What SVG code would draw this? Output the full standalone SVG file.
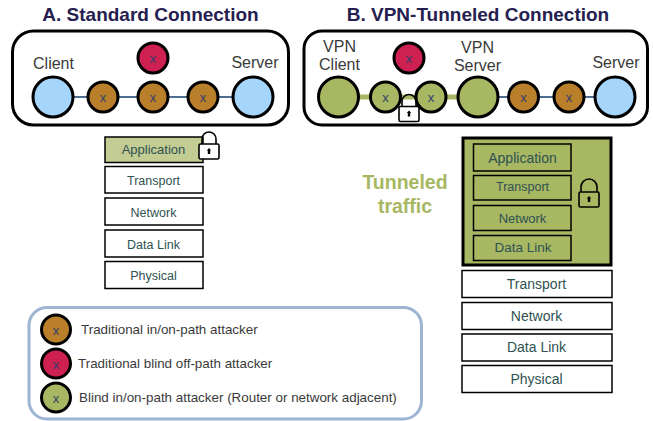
<svg xmlns="http://www.w3.org/2000/svg" width="653" height="421" viewBox="0 0 653 421">
<style>
text{font-family:"Liberation Sans",Arial,sans-serif}
.title{font-size:19px;font-weight:700;fill:#25204f;text-anchor:middle}
.lbl{font-size:16px;fill:#3a3a3a;text-anchor:middle}
.panel{fill:#fff;stroke:#000;stroke-width:3}
.n{stroke:#000;stroke-width:3}
.ep{fill:#a6d5fb}.vp{fill:#a8b762}.br{fill:#b97f2a}.rd{fill:#ce2051}
.x{font-size:13px;fill:#33406b;text-anchor:middle}
.wire{stroke:#4f6d8e;stroke-width:2;fill:none}
.tun{stroke:#a8b762;stroke-width:5;fill:none}
.lay{fill:#fff;stroke:#000;stroke-width:1.5}
.lg{fill:none;stroke:#000;stroke-width:1.5}
.lt{font-size:12.5px;fill:#2f5252;text-anchor:middle}
.lt2{font-size:14px;fill:#2f5252;text-anchor:middle}
.leg{font-size:13.4px;fill:#3a3a3a}
.tl{font-size:19.5px;font-weight:700;fill:#a8b762;text-anchor:middle}
.lockb{fill:#fff;stroke:#000;stroke-width:1.6}
.lockn{fill:none;stroke:#000;stroke-width:1.6}
.lockv{fill:#a8b762;stroke:#000;stroke-width:1.6}
</style>
<defs>
<g id="lock"><path class="lockn" d="M-7-4V-10A7 7 0 0 1 7-10V-4"/><rect class="lockb" x="-10" y="-5" width="20" height="15" rx="1.5"/><path d="M-1.2 5V1.500H-2.200L0-1 2.200 1.500H1.200V5Z" fill="#000"/></g>
</defs>
<text class="title" x="150.500" y="21">A. Standard Connection</text>
<text class="title" x="478" y="21">B. VPN-Tunneled Connection</text>
<rect class="panel" x="12.500" y="31" width="276" height="94" rx="21"/>
<rect class="panel" x="304" y="31" width="343.500" height="94" rx="18"/>
<g id="connectors">
<path class="wire" d="M73 97H233"/>
<path class="tun" d="M358 97H458"/>
<path class="wire" d="M497 97H596"/>
</g>
<g id="a-client"><circle class="n ep" cx="53" cy="97" r="20"/><text class="lbl" x="53.500" y="69">Client</text></g>
<g id="a-att1"><circle class="n br" cx="103" cy="97" r="15"/><text class="x" x="103" y="102">x</text></g>
<g id="a-att2"><circle class="n br" cx="153" cy="97" r="15"/><text class="x" x="153" y="102">x</text></g>
<g id="a-att3"><circle class="n br" cx="203" cy="97" r="15"/><text class="x" x="203" y="102">x</text></g>
<g id="a-blind"><circle class="n rd" cx="153" cy="58" r="15"/><text class="x" x="153" y="63">x</text></g>
<g id="a-server"><circle class="n ep" cx="253" cy="97" r="20"/><text class="lbl" x="255" y="68">Server</text></g>
<g id="b-vpn-client"><circle class="n vp" cx="338.500" cy="97" r="20"/><text class="lbl" x="339.500" y="52">VPN</text><text class="lbl" x="339.500" y="70">Client</text></g>
<g id="b-lock"><use href="#lock" x="409" y="111.500"/></g>
<g id="b-att1"><circle class="n vp" cx="385.500" cy="97" r="15"/><text class="x" x="385.500" y="102">x</text></g>
<g id="b-att2"><circle class="n vp" cx="431" cy="97" r="15"/><text class="x" x="431" y="102">x</text></g>
<g id="b-blind"><circle class="n rd" cx="409" cy="58" r="15"/><text class="x" x="409" y="63">x</text></g>
<g id="b-vpn-server"><circle class="n vp" cx="478" cy="97" r="20"/><text class="lbl" x="477.500" y="53">VPN</text><text class="lbl" x="477.500" y="71">Server</text></g>
<g id="b-att3"><circle class="n br" cx="523.500" cy="97" r="15"/><text class="x" x="523.500" y="102">x</text></g>
<g id="b-att4"><circle class="n br" cx="569" cy="97" r="15"/><text class="x" x="569" y="102">x</text></g>
<g id="b-server"><circle class="n ep" cx="615" cy="97" r="20"/><text class="lbl" x="616" y="68">Server</text></g>
<g id="a-stack">
<rect x="105" y="137" width="98" height="25.500" fill="#c3cc93" stroke="#000" stroke-width="1.500"/><text class="lt" x="153.500" y="153.500" font-size="13" style="font-size:13px">Application</text>
<rect class="lay" x="105" y="166.500" width="98" height="26.500"/><text class="lt" x="153.500" y="185">Transport</text>
<rect class="lay" x="105" y="198" width="98" height="27"/><text class="lt" x="153.500" y="217">Network</text>
<rect class="lay" x="105" y="230" width="98" height="27"/><text class="lt" x="153.500" y="248.500">Data Link</text>
<rect class="lay" x="105" y="261.500" width="98" height="27"/><text class="lt" x="153.500" y="280">Physical</text>
</g>
<g id="a-lock"><use href="#lock" x="209" y="149"/></g>
<g id="tunnel-label"><text class="tl" x="405" y="189">Tunneled</text><text class="tl" x="405" y="213">traffic</text></g>
<g id="tunnel">
<rect x="463" y="138" width="148" height="127" fill="#a8b762" stroke="#000" stroke-width="3"/>
<rect class="lg" x="473.500" y="144" width="97.500" height="27"/><text class="lt2" x="522.500" y="163">Application</text>
<rect class="lg" x="473.500" y="175.500" width="97.500" height="24.500"/><text class="lt" x="522.500" y="191">Transport</text>
<rect class="lg" x="473.500" y="205.500" width="97.500" height="25"/><text class="lt" x="522.500" y="223" style="font-size:13px">Network</text>
<rect class="lg" x="473.500" y="235.500" width="97.500" height="25"/><text class="lt" x="523" y="252" style="font-size:13.500px">Data Link</text>
<g transform="translate(589,197)"><path class="lockn" d="M-8-5V-10A8 8 0 0 1 8-10V-5"/><rect class="lockv" x="-10" y="-5" width="20" height="15" rx="1.500"/><path d="M-1.200 5V1.500H-2.200L0-1 2.200 1.500H1.200V5Z" fill="#000"/></g>
</g>
<g id="b-stack">
<rect class="lay" x="462" y="270.500" width="150" height="27"/><text class="lt2" x="536.500" y="289">Transport</text>
<rect class="lay" x="462" y="302.500" width="150" height="27"/><text class="lt2" x="536.500" y="321">Network</text>
<rect class="lay" x="462" y="334" width="150" height="27"/><text class="lt2" x="536.500" y="352">Data Link</text>
<rect class="lay" x="462" y="365.500" width="150" height="27"/><text class="lt2" x="536.500" y="384">Physical</text>
</g>
<g id="legend">
<rect x="29" y="307.500" width="392.500" height="111.500" rx="18" fill="#fff" stroke="#9db5d3" stroke-width="3"/>
<circle class="n br" cx="56" cy="329.500" r="14.500"/><text class="x" x="56" y="335">x</text>
<text class="leg" x="81" y="334">Traditional in/on-path attacker</text>
<circle class="n rd" cx="56" cy="363.500" r="14.500"/><text class="x" x="56" y="369">x</text>
<text class="leg" x="78" y="368">Traditional blind off-path attacker</text>
<circle class="n vp" cx="56" cy="397.500" r="14.500"/><text class="x" x="56" y="403">x</text>
<text class="leg" x="79" y="402">Blind in/on-path attacker (Router or network adjacent)</text>
</g>
</svg>
